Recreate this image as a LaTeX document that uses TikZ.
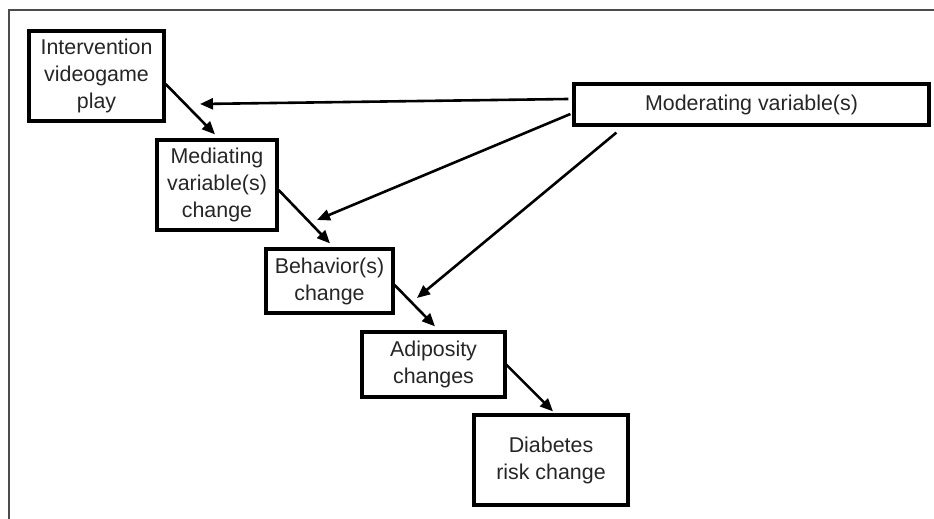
\documentclass[tikz,border=0pt]{standalone}
\usepackage{fontspec}
\setmainfont{Liberation Sans}
\usetikzlibrary{arrows.meta,calc}
\begin{document}
\begin{tikzpicture}[x=1pt,y=1pt,
  box/.style={draw=black,line width=3.2pt,fill=white,align=center,inner sep=0pt,
    font=\fontsize{21.4}{27}\selectfont,text=black!85},
  conn/.style={line width=2.6pt,-{Triangle[length=13pt,width=11pt]}},
  frameline/.style={draw=black!70,line width=1.5pt}]
\useasboundingbox (0,0) rectangle (934,519);
\fill[white] (0,0) rectangle (934,519);
\draw[frameline] (9,0) -- (9,509) -- (934,509);
\node[box,minimum width=135pt,minimum height=90pt] (iv) at (96.5,443) {Intervention\\videogame\\play};
\node[box,minimum width=120pt,minimum height=90pt] (med) at (217,334) {Mediating\\variable(s)\\change};
\node[box,minimum width=127pt,minimum height=64pt] (beh) at (329.5,238) {Behavior(s)\\change};
\node[box,minimum width=143pt,minimum height=65pt] (adi) at (433.5,154.5) {Adiposity\\changes};
\node[box,minimum width=154pt,minimum height=90pt] (dia) at (551,59) {Diabetes\\risk change};
\node[box,minimum width=355pt,minimum height=41pt] (mod) at (751.5,414.5) {Moderating variable(s)};
\coordinate (t1) at (200,415);
\coordinate (t2) at (317,299);
\coordinate (t3) at (417,221);
\draw[conn] ($(iv.east)+(0,-8)$) -- ($(med.north)+(-2,4)$);
\draw[conn] ($(med.east)+(0,-5)$) -- ($(beh.north)+(0.5,4)$);
\draw[conn] ($(beh.east)+(0,-4)$) -- ($(adi.north)+(1.5,4)$);
\draw[conn] ($(adi.east)+(-2,1.5)$) -- ($(dia.north)+(2,2)$);
\draw[conn] ($(mod.west)+(-4,5.5)$) -- (t1);
\draw[conn] ($(mod.west)+(-2,-9.5)$) -- (t2);
\draw[conn] ($(mod.south west)+(44,-6)$) -- (t3);
\end{tikzpicture}
\end{document}
